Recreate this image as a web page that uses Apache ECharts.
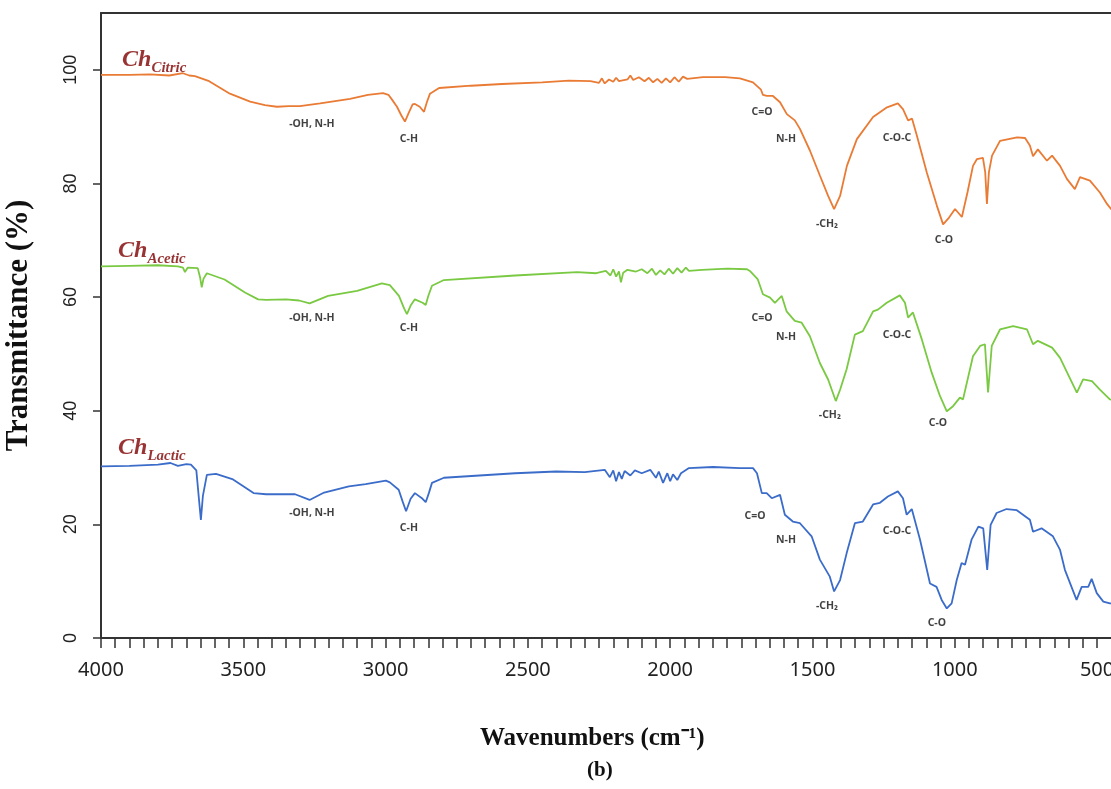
<!DOCTYPE html>
<html>
<head>
<meta charset="utf-8">
<script src="https://cdn.jsdelivr.net/npm/echarts@6/dist/echarts.min.js"></script>
<style>
  html, body { margin: 0; padding: 0; background: #fff; }
  #chart { width: 1111px; height: 789px; }
</style>
</head>
<body>
<div id="chart"></div>
<script>
// FTIR spectra, [wavenumber cm-1, transmittance %]
const citric = [[4000,99.1],[3900,99.1],[3828,99.2],[3760,99.0],[3712,99.4],[3690,99.0],[3670,98.9],[3620,98.0],[3547,95.8],[3476,94.4],[3424,93.8],[3382,93.5],[3340,93.6],[3301,93.6],[3230,94.1],[3125,94.9],[3062,95.6],[3009,95.9],[2990,95.6],[2978,94.8],[2960,93.5],[2945,92.0],[2932,90.9],[2918,92.5],[2905,93.9],[2897,94.0],[2880,93.5],[2865,92.6],[2855,94.3],[2844,95.8],[2812,96.8],[2700,97.2],[2591,97.5],[2450,97.8],[2356,98.1],[2280,98.0],[2250,97.7],[2240,98.5],[2230,97.6],[2215,98.3],[2200,97.9],[2190,98.6],[2180,98.0],[2150,98.3],[2140,99.0],[2130,98.2],[2110,98.7],[2090,98.0],[2075,98.6],[2060,97.8],[2045,98.4],[2030,97.7],[2015,98.5],[2000,97.8],[1985,98.7],[1970,97.9],[1955,98.8],[1940,98.4],[1885,98.7],[1807,98.7],[1755,98.5],[1709,97.8],[1681,96.5],[1674,95.6],[1660,95.4],[1639,95.4],[1614,94.3],[1590,92.2],[1562,91.1],[1544,89.6],[1509,85.8],[1474,81.4],[1445,77.8],[1424,75.5],[1403,77.8],[1379,83.1],[1344,87.8],[1287,91.7],[1238,93.4],[1200,94.1],[1182,93.1],[1164,91.1],[1150,91.4],[1133,88.4],[1098,81.9],[1063,76.1],[1041,72.8],[1020,74.0],[999,75.5],[975,74.1],[955,78.5],[936,83.1],[922,84.3],[901,84.5],[893,82.0],[887,76.4],[880,82.0],[869,84.9],[841,87.5],[781,88.1],[753,88.0],[736,86.7],[725,84.8],[708,86.0],[676,84.0],[658,84.9],[630,83.1],[606,80.8],[578,79.0],[560,81.1],[525,80.5],[490,78.4],[465,76.4],[451,75.5],[400,74.5]];

const acetic = [[4000,65.4],[3900,65.5],[3800,65.6],[3730,65.4],[3712,65.2],[3705,64.4],[3695,65.2],[3660,65.1],[3652,63.5],[3646,61.7],[3640,63.2],[3628,64.2],[3566,63.1],[3494,60.8],[3448,59.6],[3420,59.5],[3350,59.6],[3304,59.4],[3267,58.9],[3202,60.2],[3100,61.1],[3013,62.4],[2985,62.1],[2953,60.2],[2935,58.0],[2925,57.0],[2912,58.5],[2897,59.6],[2870,59.0],[2859,58.6],[2850,60.2],[2837,62.0],[2795,63.0],[2545,63.8],[2327,64.4],[2260,64.2],[2226,64.6],[2210,63.8],[2200,64.9],[2190,63.6],[2180,64.5],[2173,62.6],[2165,64.3],[2150,64.8],[2120,64.5],[2100,64.9],[2080,64.2],[2064,65.0],[2050,63.9],[2035,64.7],[2020,64.0],[2005,65.0],[1990,64.1],[1975,65.1],[1960,64.3],[1945,65.2],[1934,64.6],[1888,64.8],[1800,65.0],[1730,64.9],[1720,64.6],[1692,63.1],[1674,60.5],[1649,59.9],[1632,59.0],[1608,60.2],[1591,57.5],[1562,55.8],[1538,55.5],[1509,53.1],[1474,48.4],[1445,45.5],[1418,41.7],[1403,43.7],[1380,47.3],[1351,53.4],[1323,54.0],[1287,57.5],[1270,57.8],[1239,59.0],[1193,60.3],[1175,59.0],[1164,56.4],[1147,57.3],[1116,52.6],[1081,46.7],[1052,42.6],[1028,39.9],[1006,40.8],[982,42.3],[971,42.0],[936,49.6],[911,51.4],[894,51.7],[883,43.2],[870,51.4],[841,54.3],[795,54.9],[746,54.3],[725,51.7],[708,52.3],[658,51.1],[630,49.3],[602,46.4],[571,43.2],[549,45.5],[518,45.2],[490,43.7],[455,42.0],[400,41.5]];

const lactic = [[4000,30.2],[3900,30.3],[3800,30.5],[3756,30.8],[3730,30.3],[3700,30.6],[3684,30.5],[3665,29.5],[3655,24.0],[3649,20.8],[3642,25.0],[3628,28.7],[3596,28.9],[3536,27.9],[3464,25.5],[3420,25.3],[3318,25.3],[3267,24.3],[3216,25.6],[3129,26.7],[3070,27.1],[2999,27.7],[2985,27.4],[2954,26.1],[2940,24.0],[2928,22.3],[2912,24.5],[2897,25.5],[2870,24.5],[2859,23.9],[2848,25.5],[2837,27.3],[2795,28.2],[2545,29.0],[2401,29.3],[2300,29.2],[2230,29.6],[2212,28.3],[2200,29.5],[2190,27.6],[2180,29.2],[2170,28.0],[2160,29.4],[2140,28.6],[2124,29.5],[2100,29.0],[2070,29.6],[2050,28.2],[2040,29.3],[2025,27.3],[2010,29.0],[2000,27.6],[1990,28.8],[1975,27.8],[1962,29.0],[1934,29.9],[1850,30.1],[1755,29.9],[1709,29.9],[1695,29.0],[1678,25.5],[1661,25.5],[1643,24.6],[1614,25.2],[1597,21.7],[1569,20.5],[1544,20.2],[1503,17.9],[1474,13.8],[1439,10.8],[1424,8.2],[1403,10.2],[1380,14.9],[1351,20.2],[1323,20.5],[1287,23.5],[1263,23.8],[1235,24.9],[1200,25.8],[1182,24.6],[1169,21.7],[1151,22.7],[1122,17.3],[1087,9.6],[1064,9.0],[1046,6.7],[1028,5.2],[1011,6.1],[993,10.2],[976,13.2],[964,12.9],[941,17.3],[917,19.6],[900,19.3],[886,12.0],[874,19.9],[853,22.0],[818,22.7],[782,22.5],[736,20.8],[725,18.7],[695,19.3],[655,17.9],[630,15.5],[613,12.0],[572,6.7],[554,9.0],[531,9.0],[519,10.4],[501,7.9],[478,6.4],[455,6.1],[400,5.8]];

// band assignments: [wavenumber, transmittance, text]
const bands = [
    [3259, 90.5, '-OH, N-H'], [2918, 87.8, 'C-H'], [1677, 92.6, 'C=O'], [1593, 87.8, 'N-H'],
    [1449, 72.8, '-CH₂'], [1203, 88.0, 'C-O-C'], [1038, 70.0, 'C-O'],
    [3259, 56.3, '-OH, N-H'], [2918, 54.5, 'C-H'], [1677, 56.4, 'C=O'], [1593, 52.9, 'N-H'],
    [1439, 39.2, '-CH₂'], [1203, 53.4, 'C-O-C'], [1059, 37.9, 'C-O'],
    [3259, 22.0, '-OH, N-H'], [2918, 19.4, 'C-H'], [1702, 21.5, 'C=O'], [1593, 17.3, 'N-H'],
    [1449, 5.6, '-CH₂'], [1203, 18.9, 'C-O-C'], [1063, 2.6, 'C-O']
];

// sample names: [wavenumber, transmittance, subscript]
const samples = [[3926, 101.9, 'Citric'], [3940, 68.4, 'Acetic'], [3940, 33.7, 'Lactic']];

const xLabels = [500, 1000, 1500, 2000, 2500, 3000, 3500, 4000];
const xMinor = [];
for (let v = 500; v <= 4000; v += 50) xMinor.push(v);
const yTicks = [0, 20, 40, 60, 80, 100];

const chart = echarts.init(document.getElementById('chart'));

const lineSeries = (name, data, color) => ({
    name: name,
    type: 'line',
    data: data,
    showSymbol: false,
    lineStyle: { color: color, width: 1.8 },
    z: 3
});

chart.setOption({
    backgroundColor: '#fff',
    animation: false,
    grid: {
        left: 101,
        top: 13,
        bottom: 151,
        right: 0,
        outerBoundsMode: 'none',
        containLabel: false
    },
    xAxis: [
        {
            type: 'value',
            inverse: true,
            min: 451,
            max: 4000,
            axisLine: { show: true, lineStyle: { color: '#333', width: 2 } },
            axisTick: { show: true, length: 10, customValues: xMinor, lineStyle: { color: '#333', width: 1.5 } },
            splitLine: { show: false },
            axisLabel: {
                margin: 22,
                fontSize: 20,
                color: '#222',
                fontFamily: 'Noto Sans',
                customValues: xLabels,
                formatter: v => String(v)
            }
        },
        {
            type: 'value',
            position: 'top',
            inverse: true,
            min: 451,
            max: 4000,
            axisLine: { show: true, onZero: false, lineStyle: { color: '#333', width: 2 } },
            axisTick: { show: false },
            axisLabel: { show: false },
            splitLine: { show: false }
        }
    ],
    yAxis: {
        type: 'value',
        min: yTicks[0],
        max: 110,
        interval: 20,
        name: 'Transmittance (%)',
        nameLocation: 'middle',
        nameRotate: 90,
        nameGap: 67,
        nameTextStyle: { fontSize: 31, fontWeight: 'bold', fontFamily: 'Liberation Serif', color: '#111' },
        axisLine: { show: true, onZero: false, lineStyle: { color: '#333', width: 2 } },
        axisTick: { show: true, length: 8, lineStyle: { color: '#333', width: 1.5 } },
        splitLine: { show: false },
        axisLabel: {
            rotate: 90,
            margin: 21,
            fontSize: 18,
            color: '#222',
            fontFamily: 'Liberation Sans',
            showMaxLabel: false
        }
    },
    graphic: [
        {
            type: 'text', left: 480, top: 726,
            style: { text: 'Wavenumbers (cm⁻¹)', font: 'bold 25px "Liberation Serif"', fill: '#111' }
        },
        {
            type: 'text', left: 587, top: 760,
            style: { text: '(b)', font: 'bold 21px "Liberation Serif"', fill: '#111' }
        }
    ],
    series: [
        lineSeries('Citric', citric, '#E97B35'),
        lineSeries('Acetic', acetic, '#7AC943'),
        lineSeries('Lactic', lactic, '#3B6CC9'),
        {
            type: 'scatter',
            data: bands,
            symbolSize: 0,
            silent: true,
            z: 4,
            label: {
                show: true,
                position: 'inside',
                formatter: p => p.data[2],
                fontSize: 10.5,
                fontWeight: 'bold',
                fontFamily: 'Noto Sans',
                color: '#111'
            }
        },
        {
            type: 'scatter',
            data: samples,
            symbolSize: 0,
            silent: true,
            z: 4,
            label: {
                show: true,
                position: 'right',
                distance: 0,
                formatter: p => '{a|Ch}{b|' + p.data[2] + '}',
                rich: {
                    a: { fontSize: 24, fontStyle: 'italic', fontWeight: 'bold', fontFamily: 'Liberation Serif', color: '#800000', verticalAlign: 'bottom', lineHeight: 26 },
                    b: { fontSize: 15, fontStyle: 'italic', fontWeight: 'bold', fontFamily: 'Liberation Serif', color: '#800000', verticalAlign: 'bottom', padding: [0, 0, -4, 0], lineHeight: 26 }
                }
            }
        }
    ]
});

window.addEventListener('resize', function () {
    chart.resize();
});
</script>
</body>
</html>
